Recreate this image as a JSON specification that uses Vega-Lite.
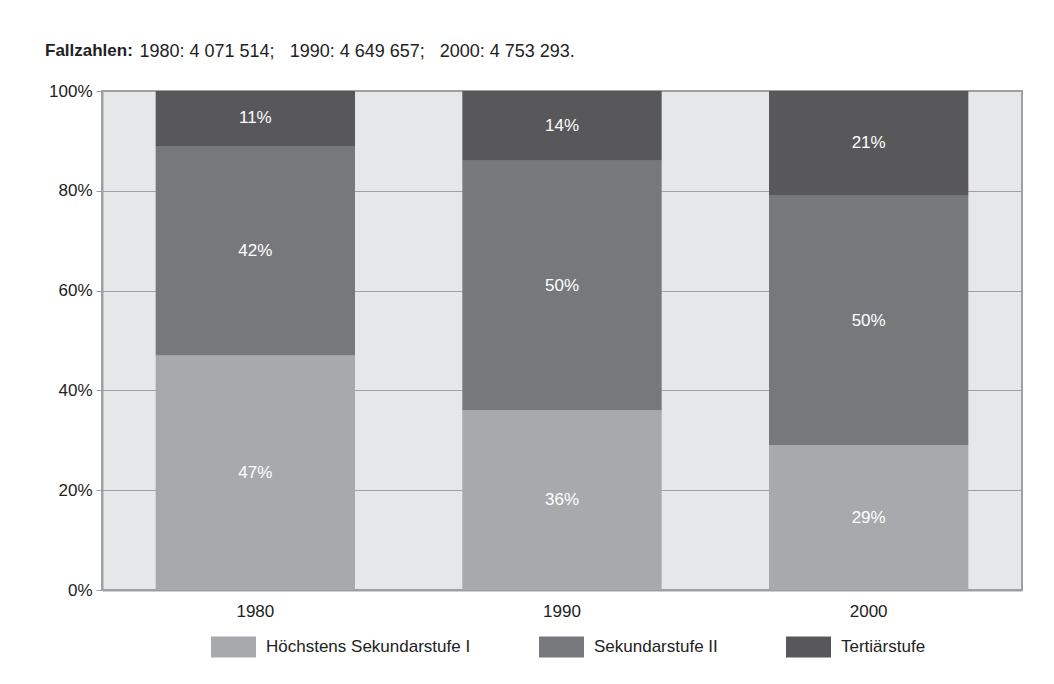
{
  "$schema": "https://vega.github.io/schema/vega-lite/v6.json",
  "width": 920,
  "height": 499,
  "autosize": {"type": "none"},
  "padding": {"left": 102, "top": 91, "right": 32, "bottom": 94},
  "background": "white",
  "title": {
    "text": "Fallzahlen:",
    "anchor": "start",
    "frame": "group",
    "dx": -57,
    "offset": -31,
    "baseline": "alphabetic",
    "fontSize": 17,
    "fontWeight": "bold",
    "color": "#222222"
  },
  "data": {
    "values": [
      {"year": "1980", "stufe": "Höchstens Sekundarstufe I", "rank": 1, "share": 0.47},
      {"year": "1980", "stufe": "Sekundarstufe II", "rank": 2, "share": 0.42},
      {"year": "1980", "stufe": "Tertiärstufe", "rank": 3, "share": 0.11},
      {"year": "1990", "stufe": "Höchstens Sekundarstufe I", "rank": 1, "share": 0.36},
      {"year": "1990", "stufe": "Sekundarstufe II", "rank": 2, "share": 0.50},
      {"year": "1990", "stufe": "Tertiärstufe", "rank": 3, "share": 0.14},
      {"year": "2000", "stufe": "Höchstens Sekundarstufe I", "rank": 1, "share": 0.29},
      {"year": "2000", "stufe": "Sekundarstufe II", "rank": 2, "share": 0.50},
      {"year": "2000", "stufe": "Tertiärstufe", "rank": 3, "share": 0.21}
    ]
  },
  "encoding": {
    "x": {
      "field": "year",
      "type": "ordinal",
      "scale": {"paddingInner": 0.35, "paddingOuter": 0.175},
      "axis": {
        "title": null,
        "labelAngle": 0,
        "ticks": false,
        "domainColor": "#9d9fa2",
        "domainWidth": 2,
        "labelPadding": 13,
        "labelFontSize": 17,
        "labelColor": "#222222"
      }
    },
    "y": {
      "field": "share",
      "type": "quantitative",
      "stack": "zero",
      "scale": {"domain": [0, 1]},
      "axis": {
        "values": [0, 0.2, 0.4, 0.6, 0.8, 1],
        "format": ".0%",
        "grid": true,
        "gridColor": "#a0a0a0",
        "gridWidth": 1,
        "domainColor": "#9d9fa2",
        "domainWidth": 2,
        "tickColor": "#9d9fa2",
        "tickSize": 6,
        "labelPadding": 4,
        "labelFontSize": 17,
        "labelColor": "#222222",
        "title": "1980: 4 071 514; \u00a0 1990: 4 649 657; \u00a0 2000: 4 753 293.",
        "titleAngle": 0,
        "titleAlign": "left",
        "titleBaseline": "alphabetic",
        "titleX": 37,
        "titleY": -35,
        "titleFontWeight": "normal",
        "titleFontSize": 18,
        "titleColor": "#222222"
      }
    },
    "order": {"field": "rank", "type": "quantitative"}
  },
  "layer": [
    {
      "mark": {"type": "bar"},
      "encoding": {
        "color": {
          "field": "stufe",
          "type": "nominal",
          "scale": {
            "domain": ["Höchstens Sekundarstufe I", "Sekundarstufe II", "Tertiärstufe"],
            "range": ["#a7a9ac", "#77787b", "#58585a"]
          },
          "legend": {
            "title": null,
            "orient": "none",
            "legendX": 109,
            "legendY": 533,
            "direction": "horizontal",
            "symbolType": "M-1,-0.467H1V0.467H-1Z",
            "symbolSize": 2025,
            "symbolStrokeWidth": 0,
            "symbolOpacity": 1,
            "labelFontSize": 17,
            "labelColor": "#222222",
            "labelOffset": 10,
            "labelLimit": 400,
            "columnPadding": 68
          }
        }
      }
    },
    {
      "mark": {"type": "text", "color": "white", "fontSize": 17, "baseline": "middle"},
      "encoding": {
        "y": {"field": "share", "type": "quantitative", "stack": "zero", "bandPosition": 0.5},
        "detail": {"field": "stufe"},
        "text": {"field": "share", "type": "quantitative", "format": ".0%"}
      }
    }
  ],
  "config": {
    "font": "Liberation Sans",
    "view": {"fill": "#e6e7e8", "stroke": "#a0a0a0", "strokeWidth": 2}
  }
}
